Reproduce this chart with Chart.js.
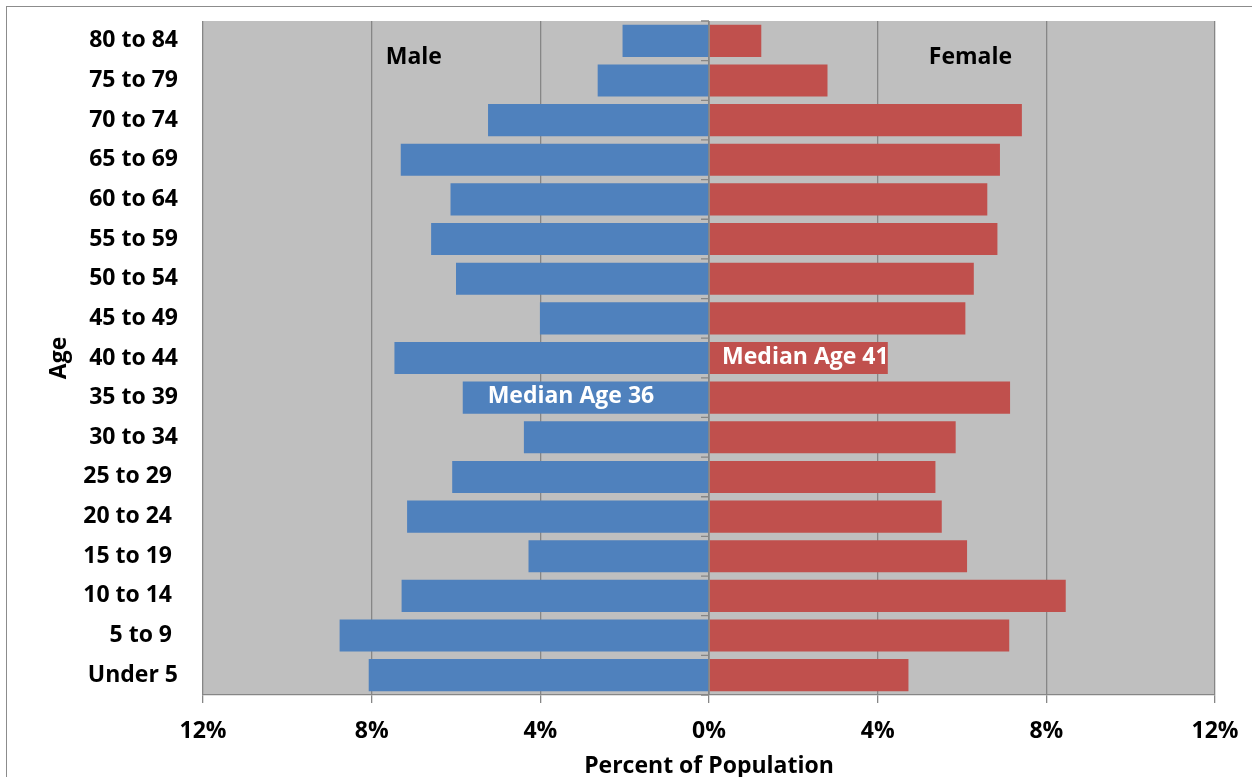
<!DOCTYPE html>
<html>
<head>
<meta charset="utf-8">
<title>Population by Age and Sex</title>
<script src="https://cdn.jsdelivr.net/npm/chart.js@4.4.1/dist/chart.umd.min.js"></script>
<style>
  html, body { margin: 0; padding: 0; background: #fff; overflow: hidden; }
  #wrap { position: relative; width: 1252px; height: 777px; }
  #frame {
    position: absolute; left: 6px; top: 6px; width: 1400px; height: 1000px;
    border: 1.5px solid #8c8c8c; pointer-events: none;
  }
</style>
</head>
<body>
<div id="wrap">
  <div id="frame"></div>
  <canvas id="pyramid"></canvas>
</div>
<script>
// Age groups, oldest at the top
const ageGroups = [
    '80 to 84', '75 to 79', '70 to 74', '65 to 69', '60 to 64', '55 to 59',
    '50 to 54', '45 to 49', '40 to 44', '35 to 39', '30 to 34', '25 to 29 ',
    '20 to 24 ', '15 to 19 ', '10 to 14 ', '5 to 9 ', 'Under 5'
];

// Percent of population in each group
const malePct = [
    2.05, 2.64, 5.24, 7.31, 6.13, 6.59, 6.00, 4.01, 7.46,
    5.84, 4.39, 6.09, 7.16, 4.28, 7.29, 8.76, 8.07
];
const femalePct = [
    1.24, 2.81, 7.42, 6.90, 6.60, 6.84, 6.28, 6.08, 4.24,
    7.14, 5.85, 5.37, 5.52, 6.12, 8.46, 7.12, 4.73
];

const xTicks = [-12, -8, -4, 0, 4, 8, 12];

// Text notes placed in data units: [text, x value, category position, colour, align]
const notes = [
    ['Male', -7.0, 0.45, '#000', 'center'],
    ['Female', 6.2, 0.45, '#000', 'center'],
    ['Median Age 36', -5.25, 9, '#fff', 'left'],
    ['Median Age 41', 0.31, 8, '#fff', 'left']
];

const FONT = "'Open Sans', 'DejaVu Sans', sans-serif";
const GRID = '#868686';
const SIZE = 23;

// Grey plot area, centre axis with its tick marks, and the text notes
const plotDecor = {
    id: 'plotDecor',
    beforeDraw(chart) {
        const a = chart.chartArea;
        const ctx = chart.ctx;
        ctx.save();
        ctx.fillStyle = '#bfbfbf';
        ctx.fillRect(a.left, a.top, a.right - a.left, a.bottom - a.top);
        ctx.restore();
    },
    afterDatasetsDraw(chart) {
        const ctx = chart.ctx;
        const xs = chart.scales.x;
        const ys = chart.scales.y;
        const x0 = xs.getPixelForValue(0);
        ctx.save();
        ctx.strokeStyle = GRID;
        ctx.lineWidth = 1.3;
        ctx.beginPath();
        ctx.moveTo(x0, chart.chartArea.top);
        ctx.lineTo(x0, chart.chartArea.bottom);
        for (let i = 0; i <= ageGroups.length; i++) {
            const y = ys.getPixelForValue(i - 0.5);
            ctx.moveTo(x0 - 8, y);
            ctx.lineTo(x0, y);
        }
        ctx.stroke();

        ctx.font = 'bold ' + SIZE + 'px ' + FONT;
        ctx.textBaseline = 'middle';
        notes.forEach(([text, xv, yv, color, align]) => {
            ctx.fillStyle = color;
            ctx.textAlign = align;
            ctx.fillText(text, xs.getPixelForValue(xv), ys.getPixelForValue(yv) - 1);
        });
        ctx.restore();
    }
};

const ctx = document.getElementById('pyramid').getContext('2d');
new Chart(ctx, {
    type: 'bar',
    data: {
        labels: ageGroups,
        datasets: [
            {
                label: 'Male',
                data: malePct.map(v => -v),
                backgroundColor: '#4f81bd',
                barPercentage: 0.81,
                categoryPercentage: 1
            },
            {
                label: 'Female',
                data: femalePct,
                backgroundColor: '#c0504d',
                barPercentage: 0.81,
                categoryPercentage: 1
            }
        ]
    },
    plugins: [plotDecor],
    options: {
        indexAxis: 'y',
        responsive: true,
        maintainAspectRatio: false,
        animation: false,
        layout: { padding: { left: 0, top: 21, right: 37, bottom: 0 } },
        plugins: {
            legend: { display: false },
            tooltip: { enabled: false }
        },
        scales: {
            x: {
                stacked: true,
                min: -12,
                max: 12,
                afterBuildTicks(scale) {
                    scale.ticks = xTicks.map(v => ({ value: v }));
                },
                afterFit(scale) {
                    scale.height = 82;
                    scale.paddingLeft = 0;
                    scale.paddingRight = 0;
                },
                grid: {
                    color: GRID,
                    lineWidth: 1.3,
                    tickLength: 8,
                    tickColor: GRID
                },
                border: { color: GRID, width: 1.3 },
                ticks: {
                    color: '#000',
                    padding: 15,
                    font: { family: FONT, size: SIZE, weight: 'bold' },
                    callback: v => Math.abs(v) + '%'
                },
                title: {
                    display: true,
                    text: 'Percent of Population',
                    color: '#000',
                    padding: { top: 0, bottom: -3 },
                    font: { family: FONT, size: SIZE, weight: 'bold' }
                }
            },
            y: {
                stacked: true,
                afterFit(scale) {
                    scale.width = 203;
                    scale.paddingTop = 0;
                    scale.paddingBottom = 0;
                },
                grid: { display: false, drawTicks: false },
                border: { display: false },
                ticks: {
                    color: '#000',
                    padding: 25,
                    autoSkip: false,
                    font: { family: FONT, size: SIZE, weight: 'bold' }
                },
                title: {
                    display: true,
                    text: 'Age',
                    color: '#000',
                    padding: { top: 46, bottom: 0 },
                    font: { family: FONT, size: SIZE, weight: 'bold' }
                }
            }
        }
    }
});
</script>
</body>
</html>
